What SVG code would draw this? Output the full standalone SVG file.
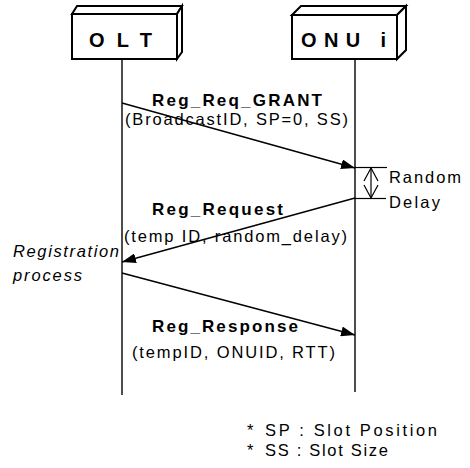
<svg xmlns="http://www.w3.org/2000/svg" width="470" height="468" viewBox="0 0 470 468">
<defs>
<style>
.box{fill:#fff;stroke:#000;stroke-width:2;stroke-linejoin:miter}
.life{stroke:#000;stroke-width:1.4;fill:none}
.msg{stroke:#000;stroke-width:1.4;fill:none;marker-end:url(#ah)}
.tick{stroke:#000;stroke-width:1.2;fill:none}
.t{font-family:"Liberation Sans",Arial,Helvetica,sans-serif;font-size:16.5px;fill:#000}
.b{font-weight:bold;font-size:17px}
.nt{font-weight:bold;font-size:20px}
.i{font-style:italic}
</style>
<marker id="ah" viewBox="0 0 14 10" refX="14" refY="5" markerWidth="14" markerHeight="10" markerUnits="userSpaceOnUse" orient="auto">
<path d="M0,0 L14,5 L0,10 z" fill="#000"/>
</marker>
</defs>
<rect width="470" height="468" fill="#fff"/>

<g id="node-olt">
<polygon class="box" points="72,14 77,6 182,6 177,14"/>
<polygon class="box" points="177,14 182,6 182,52 177,59"/>
<rect class="box" x="72" y="14" width="105" height="45"/>
<text class="t nt" x="89" y="47" textLength="63" lengthAdjust="spacing">OLT</text>
</g>

<g id="node-onu">
<polygon class="box" points="292,15 301,6 406,6 397,15"/>
<polygon class="box" points="397,15 406,6 406,50 397,59"/>
<rect class="box" x="292" y="15" width="105" height="44"/>
<text class="t nt" x="301" y="47" textLength="85" lengthAdjust="spacing">ONU i</text>
</g>

<g id="connectors">
<line class="life" x1="122" y1="59" x2="122" y2="395"/>
<line class="life" x1="355" y1="59" x2="355" y2="392"/>
<line class="msg" x1="122" y1="103" x2="355" y2="168"/>
<line class="msg" x1="355" y1="198" x2="122" y2="262"/>
<line class="msg" x1="122" y1="273" x2="355" y2="335"/>
<line class="tick" x1="355" y1="167.5" x2="387" y2="167.5"/>
<line class="tick" x1="355" y1="198.5" x2="386" y2="198.5"/>
<line class="tick" x1="371" y1="168" x2="371" y2="198"/>
<polyline class="tick" points="364,181 371,168 378,181"/>
<polyline class="tick" points="364,185 371,198 378,185"/>
</g>

<g id="labels">
<text class="t b" x="152" y="106" textLength="170" lengthAdjust="spacing">Reg_Req_GRANT</text>
<text class="t" x="125" y="125" textLength="223" lengthAdjust="spacing">(BroadcastID, SP=0, SS)</text>
<text class="t" x="389" y="183" textLength="72" lengthAdjust="spacing">Random</text>
<text class="t" x="389" y="208" textLength="51" lengthAdjust="spacing">Delay</text>
<text class="t b" x="152" y="215" textLength="131" lengthAdjust="spacing">Reg_Request</text>
<text class="t" x="124" y="242" textLength="223" lengthAdjust="spacing">(temp ID, random_delay)</text>
<text class="t i" x="13" y="257" textLength="106" lengthAdjust="spacing">Registration</text>
<text class="t i" x="13" y="281" textLength="69" lengthAdjust="spacing">process</text>
<text class="t b" x="152" y="332" textLength="146" lengthAdjust="spacing">Reg_Response</text>
<text class="t" x="132" y="358" textLength="203" lengthAdjust="spacing">(tempID, ONUID, RTT)</text>
<text class="t" x="247" y="436">*</text>
<text class="t" x="265" y="436" textLength="172" lengthAdjust="spacing">SP : Slot Position</text>
<text class="t" x="247" y="456">*</text>
<text class="t" x="265" y="456" textLength="123" lengthAdjust="spacing">SS : Slot Size</text>
</g>
</svg>
